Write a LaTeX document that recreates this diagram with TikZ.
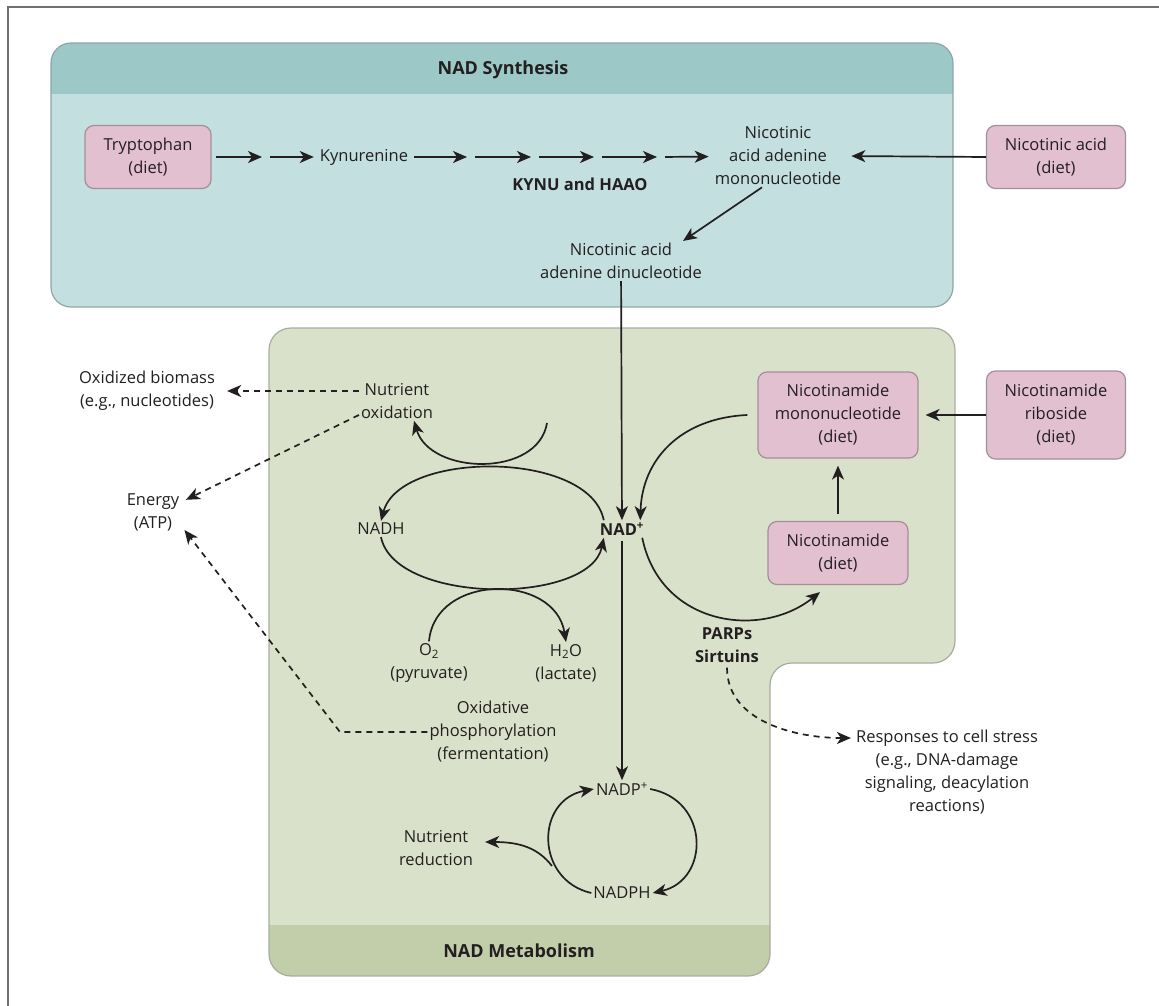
\documentclass[tikz,border=0pt]{standalone}
\usepackage{fontspec}
\setmainfont{Open Sans}
\usetikzlibrary{positioning}
\usetikzlibrary{arrows.meta}

\definecolor{ink}{HTML}{231F20}
\definecolor{framecol}{HTML}{707070}
\definecolor{synthhead}{HTML}{9CC8C7}
\definecolor{synthbody}{HTML}{C4DFE0}
\definecolor{synthline}{HTML}{8DA7A7}
\definecolor{metabody}{HTML}{DAE1CA}
\definecolor{metaband}{HTML}{C2CDAA}
\definecolor{metaline}{HTML}{A7AD9D}
\definecolor{dietfill}{HTML}{E2C0D0}
\definecolor{dietline}{HTML}{A38F99}

\begin{document}
\begin{tikzpicture}[x=1pt,y=-1pt,
    txt/.style={align=center,text=ink,font=\fontsize{16.5}{23}\selectfont,inner sep=2pt},
    hdr/.style={txt,font=\fontsize{16.5}{23}\selectfont\bfseries},
    dietbox/.style={txt,rectangle,rounded corners=9pt,draw=dietline,fill=dietfill,line width=1.2pt},
    arr/.style={-{Stealth[length=14pt,width=12pt,inset=4pt]},line width=1.7pt,draw=ink},
    dasharr/.style={arr,dash pattern=on 6pt off 5pt}]

    \useasboundingbox (0,0) rectangle (1159,1006);
    \draw[framecol,line width=2.2pt] (8,1006) -- (8,7) -- (1159,7);

    % NAD synthesis panel
    \begin{scope}
        \clip[rounded corners=20pt] (51,43) rectangle (953,307);
        \fill[synthbody] (51,43) rectangle (953,307);
        \fill[synthhead] (51,43) rectangle (953,94);
    \end{scope}
    \draw[synthline,line width=1.2pt,rounded corners=20pt] (51,43) rectangle (953,307);

    % NAD metabolism panel
    \begin{scope}
        \clip[rounded corners=22pt] (269,976) -- (269,328) -- (955,328) -- (955,663) -- (770,663) -- (770,976) -- cycle;
        \fill[metabody] (269,328) rectangle (955,976);
        \fill[metaband] (269,925) rectangle (770,976);
    \end{scope}
    \draw[metaline,line width=1.2pt,rounded corners=22pt] (269,976) -- (269,328) -- (955,328) -- (955,663) -- (770,663) -- (770,976) -- cycle;

    \node[hdr,font=\fontsize{18}{22}\selectfont\bfseries] (synth) at (503,70) {NAD Synthesis};
    \node[hdr,font=\fontsize{18}{22}\selectfont\bfseries] (metab) at (519,951) {NAD Metabolism};

    % synthesis
    \node[dietbox,minimum width=126pt,minimum height=63pt] (trp) at (148,157) {Tryptophan\\(diet)};
    \node[txt] (kyn) at (364,157) {Kynurenine};
    \node[txt] (namn) at (778,156) {Nicotinic\\acid adenine\\mononucleotide};
    \node[dietbox,minimum width=139pt,minimum height=63pt] (na) at (1056,157) {Nicotinic acid\\(diet)};
    \node[hdr] (kynu) at (580,184) {KYNU and HAAO};
    \node[txt] (naad) at (621,261) {Nicotinic acid\\adenine dinucleotide};

    \coordinate (g1) at (266,157);
    \coordinate (g2) at (471,157);
    \coordinate (g3) at (535,157);
    \coordinate (g4) at (598,157);
    \coordinate (g5) at (661,157);
    \foreach \from/\to in {trp/g1,g1/kyn,kyn/g2,g2/g3,g3/g4,g4/g5,g5/namn}
        \draw[arr,shorten <=4pt,shorten >=4pt] (\from) -- (\to);

    \draw[arr,shorten >=8pt] (na.west) -- (namn.east);
    \draw[arr] ([xshift=-16pt]namn.south) -- ([xshift=62pt]naad.north);

    % metabolism
    \node[txt] (nox) at (397,401) {Nutrient\\oxidation};
    \node[txt] (oxb) at (147,391) {Oxidized biomass\\(e.g., nucleotides)};
    \node[txt] (atp) at (153,512) {Energy\\(ATP)};
    \node[txt] (nadh) at (381,529) {NADH};
    \node[hdr] (nad) at (622,529) {NAD\textsuperscript{+}};
    \node[txt] (o2) at (429,663) {O\textsubscript{2}\\(pyruvate)};
    \node[txt] (h2o) at (566,663) {H\textsubscript{2}O\\(lactate)};
    \node[txt] (oxph) at (493,732) {Oxidative\\phosphorylation\\(fermentation)};
    \node[txt] (nadp) at (622,789) {NADP\textsuperscript{+}};
    \node[txt] (nadph) at (622,893) {NADPH};
    \node[txt] (nred) at (436,848) {Nutrient\\reduction};
    \node[hdr] (parp) at (727,645) {PARPs\\Sirtuins};
    \node[txt] (stress) at (947,772) {Responses to cell stress\\(e.g., DNA-damage\\signaling, deacylation\\reactions)};
    \node[dietbox,minimum width=160pt,minimum height=86pt] (nmn) at (838,415) {Nicotinamide\\mononucleotide\\(diet)};
    \node[dietbox,minimum width=140pt,minimum height=63pt] (nam) at (838,553) {Nicotinamide\\(diet)};
    \node[dietbox,minimum width=139pt,minimum height=88pt] (nr) at (1056,415) {Nicotinamide\\riboside\\(diet)};

    \coordinate (uox) at (547,423);
    \coordinate (oxcorner) at (340,732);
    \coordinate (nrb) at (552,866);

    \draw[arr] (naad) -- (nad);
    \draw[arr,shorten <=3pt] (nad) -- (nadp);

    \draw[arr] (uox) .. controls (538,478) and (430,475) .. ([xshift=17pt]nox.south);
    \draw[arr] ([xshift=6pt]nad.north west) .. controls (590,450) and (400,450) .. (nadh.north);
    \draw[arr] (nadh.south) .. controls (395,605) and (590,605) .. ([xshift=6pt]nad.south west);
    \draw[arr] (o2.north) .. controls (435,573) and (555,573) .. (h2o.north);

    \draw[arr] ([xshift=-10pt]nmn.west) .. controls (680,418) and (642,460) .. ([xshift=-6pt]nad.north east);
    \draw[arr] ([xshift=-4pt]nad.south east) .. controls (660,625) and (760,640) .. ([xshift=-18pt,yshift=-7pt]nam.south);
    \draw[arr,shorten <=7pt,shorten >=7pt] (nam) -- (nmn);
    \draw[arr,shorten >=7pt] (nr.west) -- (nmn.east);

    \draw[arr] (nadph.west) .. controls (535,880) and (535,800) .. (nadp.west);
    \draw[arr] (nadp.east) .. controls (710,800) and (710,880) .. (nadph.east);
    \draw[arr] (nrb) .. controls (538,848) and (520,842) .. ([xshift=10pt,yshift=6pt]nred.east);

    \draw[dasharr,shorten >=10pt] (nox.west |- oxb.east) -- (oxb.east);
    \draw[dasharr,shorten >=5pt] ([yshift=-14pt]nox.west) -- ([yshift=10pt]atp.east);
    \draw[dasharr,shorten >=5pt] (oxph.west) -- (oxcorner) -- ([yshift=-14pt]atp.east);
    \draw[dasharr,shorten <=3pt,shorten >=3pt] (parp.south) to[out=-90,in=180] ([yshift=34pt]stress.west);

\end{tikzpicture}
\end{document}
